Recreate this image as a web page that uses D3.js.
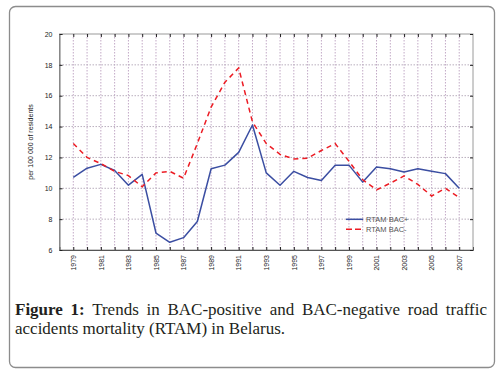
<!DOCTYPE html>
<html>
<head>
<meta charset="utf-8">
<script src="https://cdn.jsdelivr.net/npm/d3@7"></script>
<style>
    html, body { margin: 0; padding: 0; background: #fff; }
    #wrap { position: relative; width: 500px; height: 376px; overflow: hidden; }
    #wrap svg { position: absolute; left: 0; top: 0; }
    .caption {
        position: absolute;
        left: 15px;
        width: 472px;
        font-family: "Liberation Serif", "DejaVu Serif", serif;
        font-size: 17px;
        line-height: 18.9px;
        color: #231f20;
        white-space: nowrap;
    }
    .caption.l1 { top: 300.6px; text-align: justify; text-align-last: justify; }
    .caption.l2 { top: 319.6px; }
</style>
</head>
<body>
<div id="wrap">
    <div class="caption l1"><b>Figure 1:</b> Trends in BAC-positive and BAC-negative road traffic</div>
    <div class="caption l2">accidents mortality (RTAM) in Belarus.</div>
</div>
<script>
    // Values (per 100 000 of residents)
    var years = d3.range(1979, 2008);
    var bacPositive = [10.7, 11.3, 11.55, 11.15, 10.2, 10.9, 7.1, 6.5, 6.8, 7.85,
        11.27, 11.5, 12.33, 14.1, 11.0, 10.2, 11.1, 10.7, 10.5, 11.5,
        11.5, 10.4, 11.38, 11.27, 11.05, 11.27, 11.1, 10.95, 10.0];
    var bacNegative = [12.9, 12.0, 11.6, 11.1, 10.82, 10.1, 11.0, 11.1, 10.65, 12.9,
        15.26, 16.87, 17.8, 14.3, 12.9, 12.2, 11.9, 11.95, 12.45, 12.9,
        11.75, 10.55, 9.9, 10.33, 10.8, 10.25, 9.5, 10.0, 9.4];
    var yTicks = [6, 8, 10, 12, 14, 16, 18, 20];
    var seriesNames = ["RTAM BAC+", "RTAM BAC-"];

    var W = 500, H = 376;
    var plot = { left: 59.5, right: 473, top: 34, bottom: 250 };

    var svg = d3.select("#wrap").insert("svg", ":first-child")
        .attr("width", W)
        .attr("height", H);

    // Outer rounded frame
    svg.append("rect")
        .attr("x", 9.5).attr("y", 6.5)
        .attr("width", 485).attr("height", 361)
        .attr("rx", 6).attr("ry", 6)
        .attr("fill", "none")
        .attr("stroke", "#8c8c8c")
        .attr("stroke-width", 1.3);

    var x = d3.scaleLinear().domain([1978, 2008]).range([plot.left, plot.right]);
    var y = d3.scaleLinear().domain([6, 20]).range([plot.bottom, plot.top]);

    var font = "'Liberation Sans', Arial, sans-serif";

    // Dotted grid
    var grid = svg.append("g").attr("class", "grid");
    grid.selectAll("line.v").data(years).enter().append("line")
        .attr("x1", function (d) { return x(d); })
        .attr("x2", function (d) { return x(d); })
        .attr("y1", plot.top).attr("y2", plot.bottom)
        .attr("stroke", "#c2a9c6")
        .attr("stroke-width", 1)
        .attr("stroke-dasharray", "1.5,1.5");
    grid.selectAll("line.h").data(yTicks.slice(1, -1)).enter().append("line")
        .attr("x1", plot.left).attr("x2", plot.right)
        .attr("y1", function (d) { return y(d); })
        .attr("y2", function (d) { return y(d); })
        .attr("stroke", "#b9aebd")
        .attr("stroke-width", 1)
        .attr("stroke-dasharray", "1.5,1.5");

    // Plot border
    svg.append("rect")
        .attr("x", plot.left).attr("y", plot.top)
        .attr("width", plot.right - plot.left)
        .attr("height", plot.bottom - plot.top)
        .attr("fill", "none")
        .attr("stroke", "#9a9a9a")
        .attr("stroke-width", 1);

    // Axes with inward ticks
    var xAxis = svg.append("g")
        .attr("transform", "translate(0," + plot.bottom + ")")
        .call(d3.axisBottom(x).tickValues(years).tickSize(-3).tickPadding(5)
            .tickFormat(function (d) { return (d % 2 === 1) ? String(d) : ""; }));
    xAxis.select(".domain").attr("stroke", "#555");
    xAxis.selectAll(".tick line").attr("stroke", "#222");
    xAxis.selectAll("text")
        .attr("font-family", font)
        .attr("font-size", "7px")
        .attr("fill", "#222")
        .attr("text-anchor", "end")
        .attr("transform", "rotate(-90)")
        .attr("x", -5)
        .attr("y", 0)
        .attr("dy", "0.32em");

    var xTop = svg.append("g")
        .attr("transform", "translate(0," + plot.top + ")")
        .call(d3.axisTop(x).tickValues(years).tickSize(-3).tickFormat(""));
    xTop.select(".domain").remove();
    xTop.selectAll(".tick line").attr("stroke", "#222");

    var yAxis = svg.append("g")
        .attr("transform", "translate(" + plot.left + ",0)")
        .call(d3.axisLeft(y).tickValues(yTicks).tickSize(-3).tickPadding(7));
    yAxis.select(".domain").attr("stroke", "#777");
    yAxis.selectAll(".tick line").attr("stroke", "#222");
    yAxis.selectAll("text")
        .attr("font-family", font)
        .attr("font-size", "7px")
        .attr("fill", "#222");

    var yRight = svg.append("g")
        .attr("transform", "translate(" + plot.right + ",0)")
        .call(d3.axisRight(y).tickValues(yTicks).tickSize(-3).tickFormat(""));
    yRight.select(".domain").remove();
    yRight.selectAll(".tick line").attr("stroke", "#222");

    // Y axis title
    svg.append("text")
        .attr("transform", "translate(33," + ((plot.top + plot.bottom) / 2) + ") rotate(-90)")
        .attr("text-anchor", "middle")
        .attr("font-family", font)
        .attr("font-size", "7px")
        .attr("fill", "#222")
        .text("per 100 000 of residents");

    // Lines
    var line = d3.line()
        .x(function (d) { return x(d[0]); })
        .y(function (d) { return y(d[1]); });

    svg.append("path")
        .datum(d3.zip(years, bacPositive))
        .attr("d", line)
        .attr("fill", "none")
        .attr("stroke", "#3b4ea2")
        .attr("stroke-width", 1.5)
        .attr("stroke-linejoin", "round");

    svg.append("path")
        .datum(d3.zip(years, bacNegative))
        .attr("d", line)
        .attr("fill", "none")
        .attr("stroke", "#ec1c24")
        .attr("stroke-width", 1.5)
        .attr("stroke-dasharray", "5,4");

    // Legend
    var legend = svg.append("g").attr("transform", "translate(346,219.3)");
    var styles = [
        { color: "#3b4ea2", dash: null },
        { color: "#ec1c24", dash: "6,3" }
    ];
    seriesNames.forEach(function (name, i) {
        var g = legend.append("g").attr("transform", "translate(0," + (i * 10) + ")");
        g.append("line")
            .attr("x1", 0).attr("x2", 17)
            .attr("y1", 0).attr("y2", 0)
            .attr("stroke", styles[i].color)
            .attr("stroke-width", 1.5)
            .attr("stroke-dasharray", styles[i].dash);
        g.append("text")
            .attr("x", 20).attr("y", 0)
            .attr("dy", "0.35em")
            .attr("font-family", font)
            .attr("font-size", "7.5px")
            .attr("fill", "#555")
            .text(name);
    });
</script>
</body>
</html>
